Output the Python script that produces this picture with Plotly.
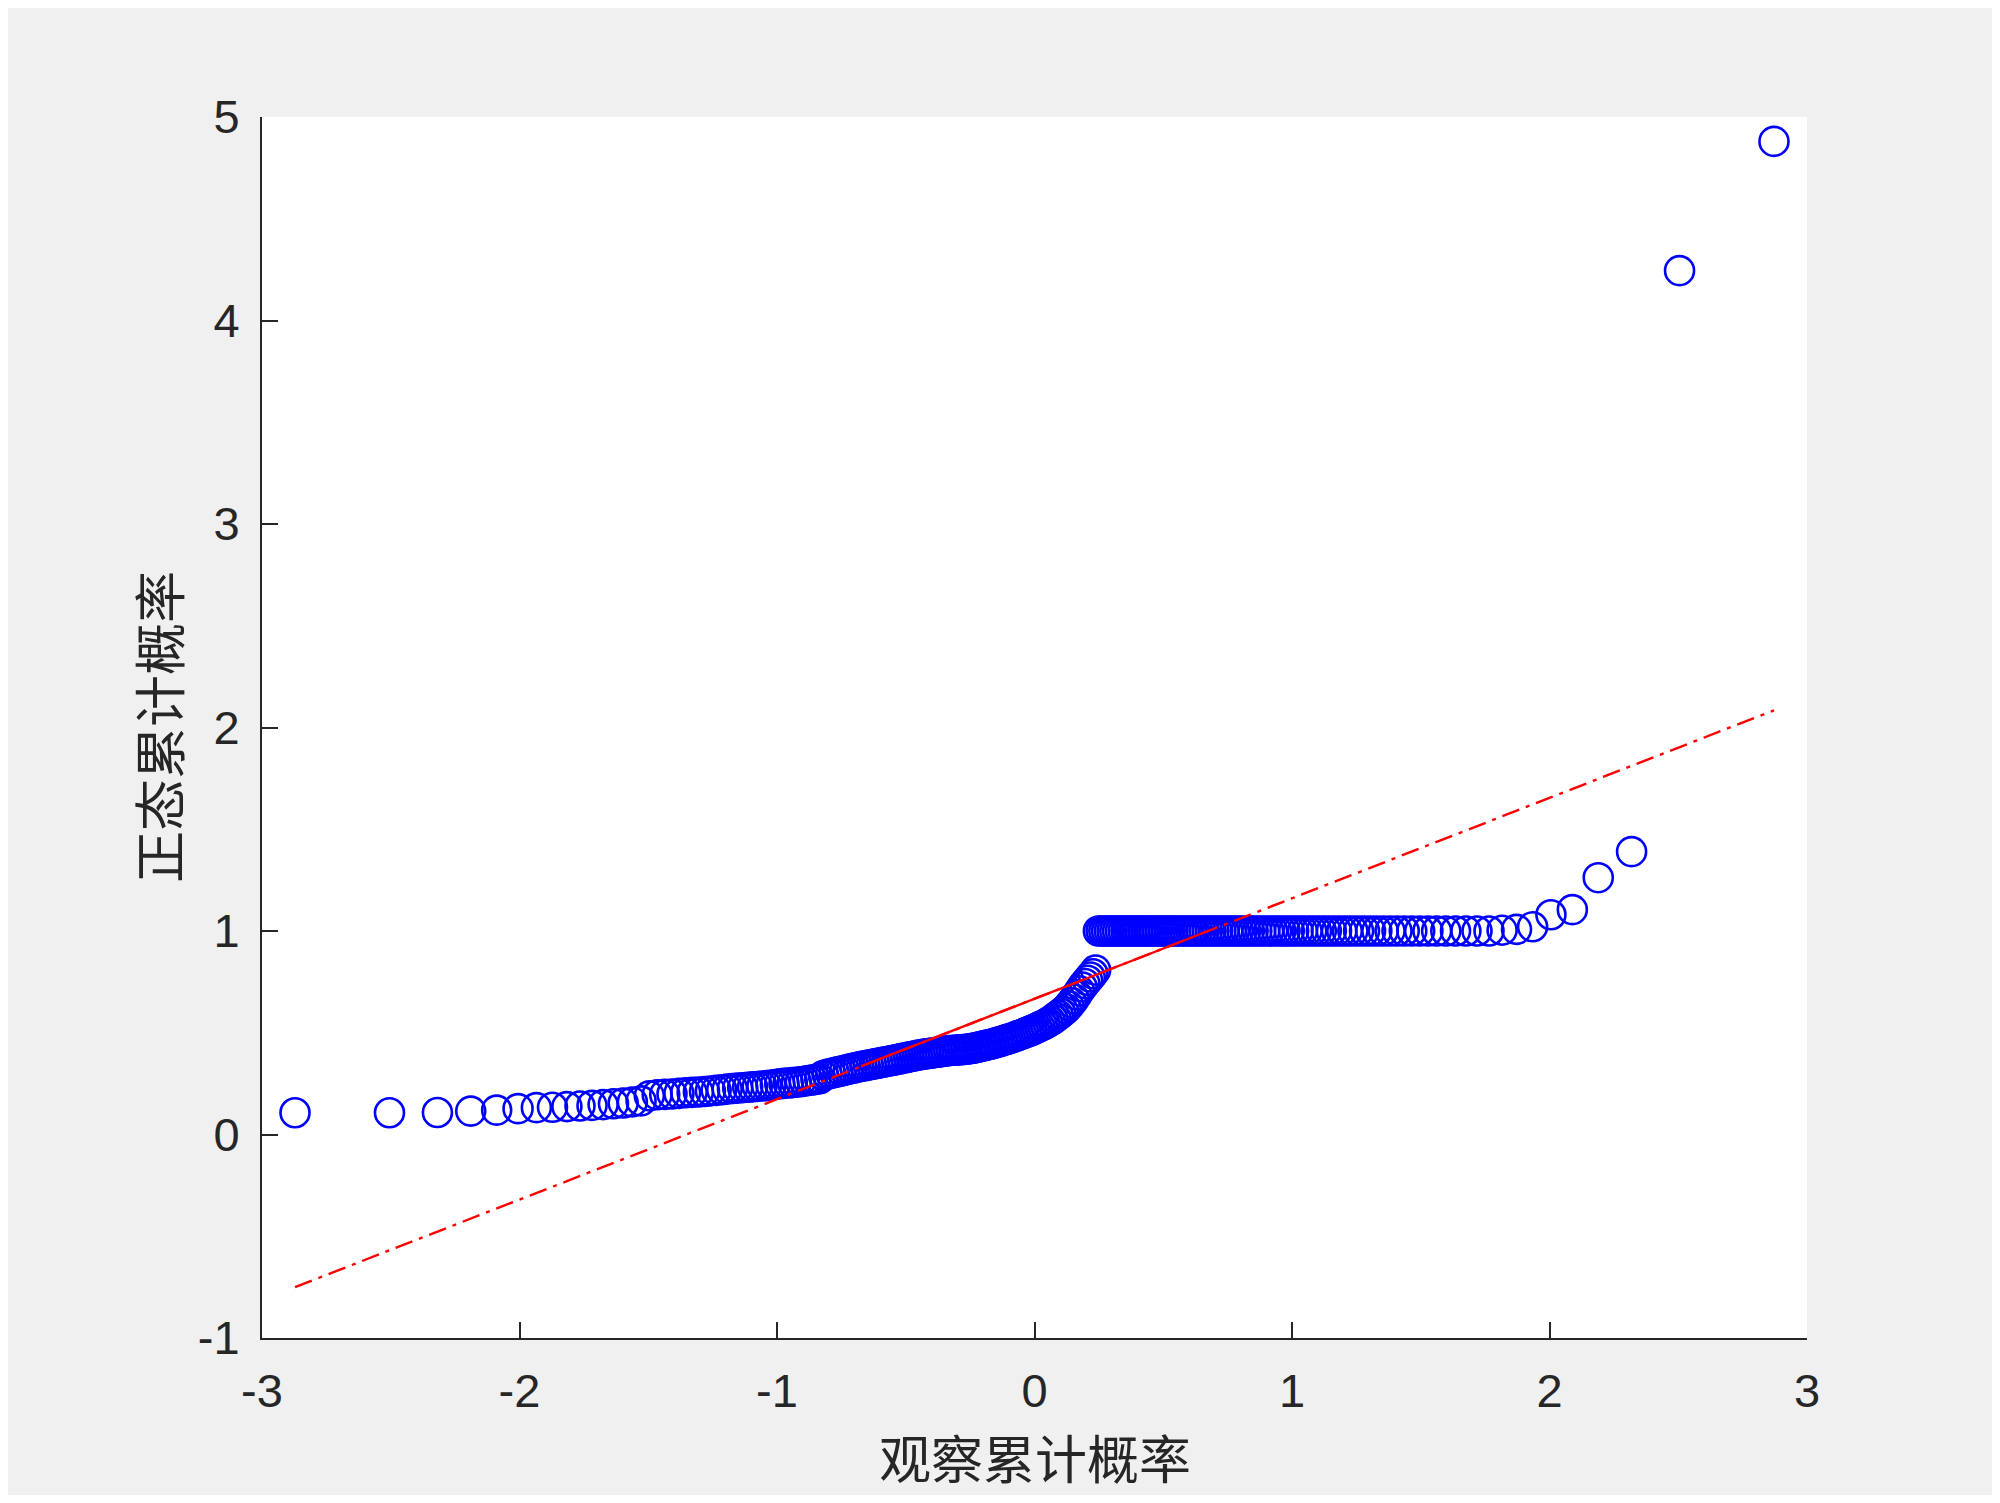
from statistics import NormalDist
import plotly.graph_objects as go

lower_values = [
    0.107, 0.107, 0.108, 0.115, 0.120, 0.127, 0.132, 0.134, 0.137, 0.140,
    0.143, 0.147, 0.151, 0.155, 0.160, 0.165, 0.190, 0.195, 0.197, 0.199,
    0.202, 0.205, 0.207, 0.209, 0.211, 0.214, 0.217, 0.220, 0.223, 0.226,
    0.228, 0.230, 0.232, 0.234, 0.236, 0.238, 0.240, 0.243, 0.246, 0.249,
    0.251, 0.253, 0.255, 0.257, 0.259, 0.262, 0.265, 0.268, 0.271, 0.274,
    0.290, 0.296, 0.300, 0.304, 0.308, 0.312, 0.316, 0.320, 0.324, 0.328,
    0.332, 0.335, 0.338, 0.341, 0.344, 0.347, 0.350, 0.353, 0.356, 0.359,
    0.362, 0.365, 0.368, 0.371, 0.374, 0.377, 0.380, 0.383, 0.386, 0.389,
    0.392, 0.394, 0.396, 0.398, 0.400, 0.402, 0.404, 0.406, 0.408, 0.410,
    0.412, 0.413, 0.414, 0.415, 0.416, 0.417, 0.418, 0.420, 0.422, 0.424,
    0.427, 0.430, 0.433, 0.436, 0.439, 0.442, 0.445, 0.449, 0.453, 0.457,
    0.461, 0.465, 0.469, 0.473, 0.477, 0.482, 0.487, 0.492, 0.497, 0.502,
    0.507, 0.512, 0.518, 0.524, 0.530, 0.536, 0.542, 0.550, 0.558, 0.566,
    0.576, 0.586, 0.596, 0.606, 0.618, 0.632, 0.648, 0.666, 0.686, 0.706,
    0.725, 0.742, 0.758, 0.774, 0.790, 0.808,
]
plateau_values = [
    1.0, 1.0, 1.0, 1.0, 1.0, 1.0, 1.0, 1.0, 1.0, 1.0,
    1.0, 1.0, 1.0, 1.0, 1.0, 1.0, 1.0, 1.0, 1.0, 1.0,
    1.0, 1.0, 1.0, 1.0, 1.0, 1.0, 1.0, 1.0, 1.0, 1.0,
    1.0, 1.0, 1.0, 1.0, 1.0, 1.0, 1.0, 1.0, 1.0, 1.0,
    1.0, 1.0, 1.0, 1.0, 1.0, 1.0, 1.0, 1.0, 1.0, 1.0,
    1.0, 1.0, 1.0, 1.0, 1.0, 1.0, 1.0, 1.0, 1.0, 1.0,
    1.0, 1.0, 1.0, 1.0, 1.0, 1.0, 1.0, 1.0, 1.0, 1.0,
    1.0, 1.0, 1.0, 1.0, 1.0, 1.0, 1.0, 1.0, 1.0, 1.0,
    1.0, 1.0, 1.0, 1.0, 1.0, 1.0, 1.0, 1.0, 1.0, 1.0,
]
upper_values = [1.004, 1.008, 1.021, 1.080, 1.105, 1.262, 1.390, 4.245, 4.880]

x_tick_values = [-3, -2, -1, 0, 1, 2, 3]
x_tick_labels = ["-3", "-2", "-1", "0", "1", "2", "3"]
y_tick_values = [-1, 0, 1, 2, 3, 4, 5]
y_tick_labels = ["-1", "0", "1", "2", "3", "4", "5"]

x_title = "观察累计概率"
y_title = "正态累计概率"

# ---------------- Q-Q construction ----------------
sample = lower_values + plateau_values + upper_values
n = len(sample)
std_normal = NormalDist()
theoretical = [std_normal.inv_cdf((i + 0.5) / n) for i in range(n)]


def prctile(vals, p):
    # MATLAB-style percentile on sorted values
    pos = n * p + 0.5  # 1-based
    lo = int(pos)
    frac = pos - lo
    lo = max(1, min(n, lo))
    hi = max(1, min(n, lo + 1))
    return vals[lo - 1] + frac * (vals[hi - 1] - vals[lo - 1])


q1y, q3y = prctile(sample, 0.25), prctile(sample, 0.75)
q1x, q3x = std_normal.inv_cdf(0.25), std_normal.inv_cdf(0.75)
slope = (q3y - q1y) / (q3x - q1x)
x_min, x_max = min(theoretical), max(theoretical)
line_x = [x_min, x_max]
line_y = [q1y + slope * (x - q1x) for x in line_x]
solid_x = [q1x, q3x]
solid_y = [q1y, q3y]

# ---------------- figure ----------------
# the page body adds an 8px white margin; the figure is sized to sit inside it
OFF = 8
W, H = 2000 - 2 * OFF, 1503 - 2 * OFF
L = 261.5 - OFF
T = 117 - OFF
R = W - (1807.5 - OFF)
B = H - (1338 - OFF)
PW, PH = W - L - R, H - T - B
AX = "#262626"

fig = go.Figure()
fig.add_trace(go.Scatter(
    x=theoretical, y=sample, mode="markers",
    marker=dict(symbol="circle-open", size=29, color="rgb(0,0,255)",
                line=dict(width=2.6, color="rgb(0,0,255)")),
    showlegend=False, hoverinfo="x+y",
))
fig.add_trace(go.Scatter(
    x=line_x, y=line_y, mode="lines",
    line=dict(color="rgb(255,0,0)", width=2.4, dash="18px,7px,4px,7px"),
    showlegend=False,
))
fig.add_trace(go.Scatter(
    x=solid_x, y=solid_y, mode="lines",
    line=dict(color="rgb(255,0,0)", width=2.4),
    showlegend=False,
))

tick_font = dict(family="Liberation Sans, Arial, sans-serif", size=47, color=AX)
cjk_font = dict(family="Noto Sans CJK SC, sans-serif", size=52, color=AX)

fig.update_layout(
    width=W, height=H,
    margin=dict(l=L, r=R, t=T, b=B, pad=0),
    paper_bgcolor="#f0f0f0",
    plot_bgcolor="#ffffff",
    showlegend=False,
    xaxis=dict(
        range=[-3, 3], tickmode="array", tickvals=x_tick_values, ticktext=x_tick_labels,
        ticks="inside", ticklen=16, tickwidth=2, tickcolor=AX,
        showline=True, linecolor=AX, linewidth=2, mirror=False,
        showgrid=False, zeroline=False, tickfont=tick_font,
        ticklabelstandoff=11,
    ),
    yaxis=dict(
        range=[-1, 5], tickmode="array", tickvals=y_tick_values, ticktext=y_tick_labels,
        ticks="inside", ticklen=16, tickwidth=2, tickcolor=AX,
        showline=True, linecolor=AX, linewidth=2, mirror=False,
        showgrid=False, zeroline=False, tickfont=tick_font,
        ticklabelstandoff=11,
    ),
    annotations=[
        dict(text=x_title, xref="paper", yref="paper",
             x=(1034.5 - OFF - L) / PW, y=(H - B - (1456 - OFF)) / PH,
             xanchor="center", yanchor="middle", showarrow=False, font=cjk_font),
        dict(text=y_title, xref="paper", yref="paper",
             x=(157 - OFF - L) / PW, y=(H - B - (727.5 - OFF)) / PH, textangle=-90,
             xanchor="center", yanchor="middle", showarrow=False, font=cjk_font),
    ],
)

fig.write_html("out.html")
